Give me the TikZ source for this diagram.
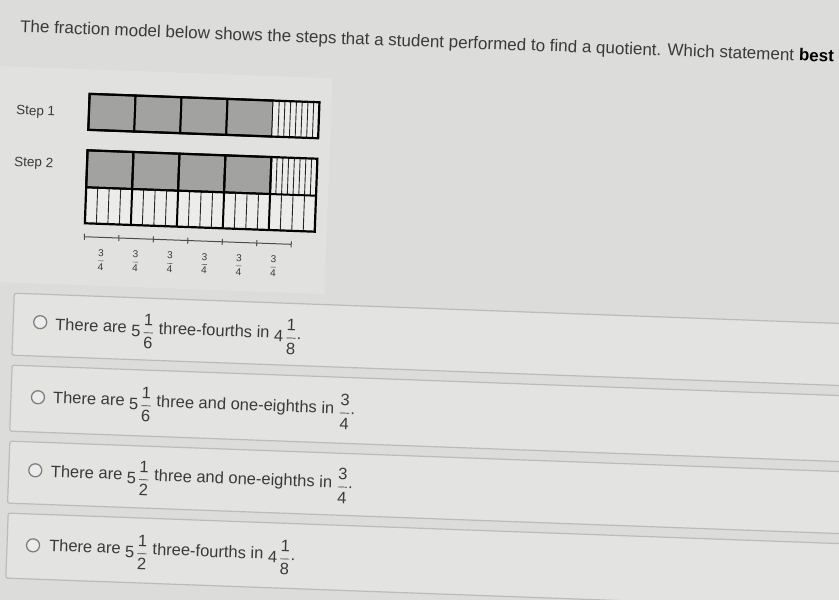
\documentclass[tikz,border=0pt]{standalone}
\usepackage{amsmath}
\usepackage{fontspec}
\setmainfont{Liberation Sans}
\definecolor{bgc}{HTML}{DCDCDA}
\definecolor{panelc}{HTML}{E1E1DF}
\definecolor{optfill}{HTML}{E3E3E1}
\definecolor{optline}{HTML}{BBBBB9}
\definecolor{shadec}{HTML}{A2A2A0}
\definecolor{cellc}{HTML}{ECECEA}
\definecolor{txtc}{HTML}{3A3A3A}
\newcommand{\frc}[2]{\ensuremath{\dfrac{\text{#1}}{\text{#2}}}}
\newcommand{\mixd}[3]{\raisebox{-3.5pt}{#1\hspace{2pt}\frc{#2}{#3}}}
\newcommand{\lfrc}[2]{\raisebox{-3.5pt}{\frc{#1}{#2}}}
\tikzset{
 outline/.style={draw=black, line width=2.2pt},
 shaded/.style={fill=shadec, draw=black, line width=2pt},
 divider/.style={draw=black, line width=2pt},
 strip/.style={draw=black!85, line width=0.9pt},
 optbox/.style={fill=optfill, draw=optline, line width=1.2pt, rounded corners=2pt},
 radio/.style={circle, draw=gray, fill=white!85!gray, line width=1.3pt, minimum size=13pt, inner sep=0pt},
 opttext/.style={anchor=base west, inner sep=0pt, text=txtc, font=\fontsize{16.5}{20}\selectfont},
 steplabel/.style={anchor=base west, inner sep=0pt, text=txtc, font=\fontsize{13.5}{16}\selectfont},
 nlabel/.style={inner sep=0pt, text=txtc, font=\fontsize{10}{12}\selectfont},
 nline/.style={draw=black!70, line width=1pt},
}
\begin{document}
\begin{tikzpicture}[x=1pt,y=-1pt]
\useasboundingbox (0,0) rectangle (839,600);
\fill[bgc] (0,0) rectangle (839,600);
\begin{scope}[rotate=-2.1, transform shape]
\fill[panelc] (-10,66) rectangle (335,282);
\node[anchor=base west, inner sep=0pt, text=txtc, font=\fontsize{17}{20}\selectfont] (title) at (21,31.5)
  {The fraction model below shows the steps that a student performed to find a quotient. Which statement \textbf{\color{black}best}};
% Step 1
\node[steplabel] (s1) at (20,114) {Step 1};
\foreach \i in {0,...,3} \draw[shaded] ({93+46*\i},90.5) rectangle ++(46,36);
\fill[cellc] (277,90.5) rectangle (323,126.5);
\foreach \k in {1,...,7} \draw[strip] ({277+5.75*\k},90.5) -- ++(0,36);
\draw[outline] (93,90.5) rectangle (323,126.5);
% Step 2
\node[steplabel] (s2) at (20,165.5) {Step 2};
\fill[cellc] (93,147) rectangle (323,220);
\foreach \i in {0,...,3} \draw[shaded] ({93+46*\i},147) rectangle ++(46,37);
\foreach \k in {1,...,7} \draw[strip] ({277+5.75*\k},147) -- ++(0,37);
\foreach \k in {1,...,19} \draw[strip] ({93+11.5*\k},184) -- ++(0,36);
\foreach \i in {1,...,4} \draw[divider] ({93+46*\i},147) -- ++(0,73);
\draw[divider] (93,184) -- (323,184);
\draw[outline] (93,147) rectangle (323,220);
% number line
\coordinate (nlA) at (93,233.5);
\coordinate (nlB) at (300,233.5);
\draw[nline] (nlA) -- (nlB);
\foreach \k in {0,...,6} \draw[nline] ({93+34.5*\k},230.5) -- ++(0,6);
\foreach \k in {0,...,5} \node[nlabel] (q\k) at ({93+34.5*(\k+0.5)},256) {\frc{3}{4}};
% options
\draw[optbox] (25,292.5) rectangle (900,354.5);
\draw[optbox] (25.5,364.5) rectangle (900,430.5);
\draw[optbox] (26,440.5) rectangle (900,502.5);
\draw[optbox] (27,512.5) rectangle (900,577.5);
\node[radio] (r1) at (52,320.5) {};
\node[radio] (r2) at (52.5,395.6) {};
\node[radio] (r3) at (52.5,468.7) {};
\node[radio] (r4) at (53,543.8) {};
\node[opttext] (o1) at (67,328) {There are \mixd{5}{1}{6} three-fourths in \mixd{4}{1}{8}.};
\node[opttext] (o2) at (67.5,401) {There are \mixd{5}{1}{6} three and one-eighths in \lfrc{3}{4}.};
\node[opttext] (o3) at (68,475) {There are \mixd{5}{1}{2} three and one-eighths in \lfrc{3}{4}.};
\node[opttext] (o4) at (69,549) {There are \mixd{5}{1}{2} three-fourths in \mixd{4}{1}{8}.};
\end{scope}
\end{tikzpicture}
\end{document}
